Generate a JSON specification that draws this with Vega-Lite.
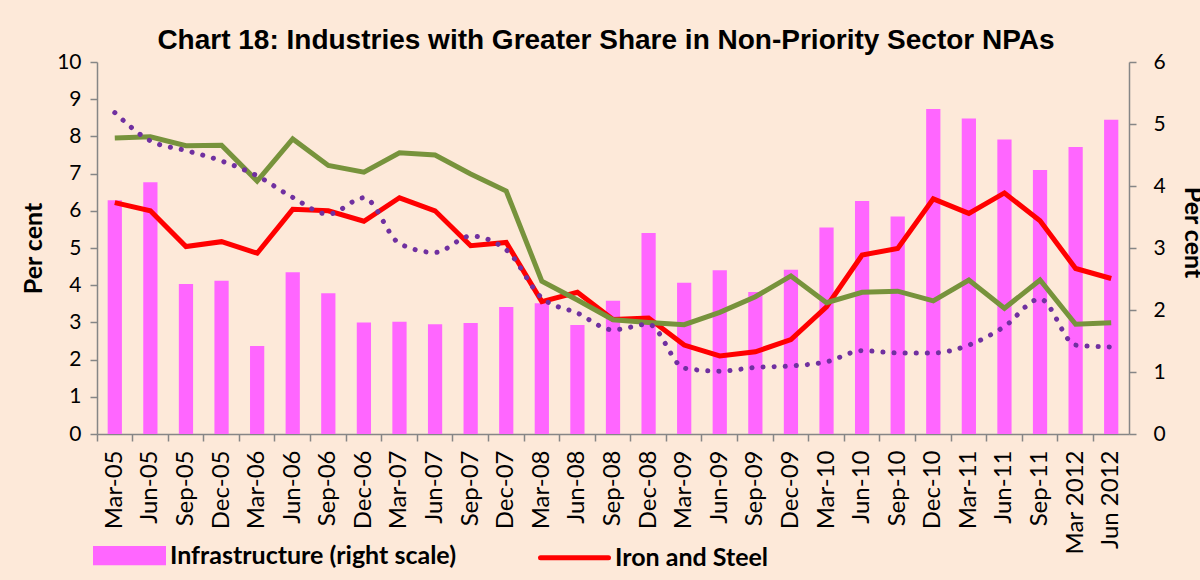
{
  "$schema": "https://vega.github.io/schema/vega-lite/v6.json",
  "width": 1032,
  "height": 372,
  "autosize": {"type": "none"},
  "padding": {"left": 97, "top": 62, "right": 71, "bottom": 146},
  "background": "#FDE9D9",
  "config": {"view": {"stroke": null}, "font": "Lato"},
  "title": {
    "text": "Chart 18: Industries with Greater Share in Non-Priority Sector NPAs",
    "font": "Liberation Sans",
    "fontSize": 28,
    "fontWeight": "bold",
    "color": "black",
    "anchor": "middle",
    "frame": "group",
    "baseline": "alphabetic",
    "offset": -26,
    "dx": -7
  },
  "data": {
    "values": [
      {"d": "Mar-05", "infra": 3.77, "iron": 6.22, "green": 7.96, "purple": 8.64},
      {"d": "Jun-05", "infra": 4.06, "iron": 6.00, "green": 7.99, "purple": 7.88},
      {"d": "Sep-05", "infra": 2.42, "iron": 5.04, "green": 7.75, "purple": 7.62},
      {"d": "Dec-05", "infra": 2.47, "iron": 5.17, "green": 7.76, "purple": 7.34},
      {"d": "Mar-06", "infra": 1.42, "iron": 4.86, "green": 6.80, "purple": 6.94},
      {"d": "Jun-06", "infra": 2.61, "iron": 6.04, "green": 7.93, "purple": 6.36},
      {"d": "Sep-06", "infra": 2.27, "iron": 6.00, "green": 7.22, "purple": 5.91},
      {"d": "Dec-06", "infra": 1.80, "iron": 5.72, "green": 7.04, "purple": 6.35},
      {"d": "Mar-07", "infra": 1.81, "iron": 6.35, "green": 7.56, "purple": 5.12},
      {"d": "Jun-07", "infra": 1.77, "iron": 6.00, "green": 7.50, "purple": 4.88},
      {"d": "Sep-07", "infra": 1.79, "iron": 5.06, "green": 6.99, "purple": 5.32},
      {"d": "Dec-07", "infra": 2.05, "iron": 5.15, "green": 6.53, "purple": 4.95},
      {"d": "Mar-08", "infra": 2.11, "iron": 3.56, "green": 4.11, "purple": 3.66},
      {"d": "Jun-08", "infra": 1.76, "iron": 3.81, "green": 3.60, "purple": 3.25},
      {"d": "Sep-08", "infra": 2.15, "iron": 3.08, "green": 3.07, "purple": 2.80},
      {"d": "Dec-08", "infra": 3.24, "iron": 3.12, "green": 3.00, "purple": 2.95},
      {"d": "Mar-09", "infra": 2.44, "iron": 2.39, "green": 2.94, "purple": 1.77},
      {"d": "Jun-09", "infra": 2.64, "iron": 2.10, "green": 3.27, "purple": 1.69},
      {"d": "Sep-09", "infra": 2.29, "iron": 2.21, "green": 3.69, "purple": 1.79},
      {"d": "Dec-09", "infra": 2.65, "iron": 2.54, "green": 4.25, "purple": 1.83},
      {"d": "Mar-10", "infra": 3.33, "iron": 3.42, "green": 3.53, "purple": 1.94},
      {"d": "Jun-10", "infra": 3.76, "iron": 4.81, "green": 3.81, "purple": 2.24},
      {"d": "Sep-10", "infra": 3.51, "iron": 4.99, "green": 3.84, "purple": 2.18},
      {"d": "Dec-10", "infra": 5.24, "iron": 6.32, "green": 3.58, "purple": 2.18},
      {"d": "Mar-11", "infra": 5.09, "iron": 5.93, "green": 4.14, "purple": 2.39},
      {"d": "Jun-11", "infra": 4.75, "iron": 6.48, "green": 3.38, "purple": 2.89},
      {"d": "Sep-11", "infra": 4.26, "iron": 5.73, "green": 4.14, "purple": 3.63},
      {"d": "Mar 2012", "infra": 4.63, "iron": 4.45, "green": 2.95, "purple": 2.39},
      {"d": "Jun 2012", "infra": 5.07, "iron": 4.18, "green": 2.99, "purple": 2.34}
    ]
  },
  "encoding": {
    "x": {
      "field": "d",
      "type": "ordinal",
      "sort": null,
      "scale": {"paddingInner": 0, "paddingOuter": 0},
      "axis": {
        "title": null,
        "labelAngle": -90,
        "labelFont": "Lato",
        "labelFontSize": 24,
        "labelColor": "black",
        "domainColor": "#868686",
        "domainWidth": 1.5,
        "tickColor": "#868686",
        "tickWidth": 1.5,
        "tickSize": 7,
        "bandPosition": 0,
        "labelOffset": 0,
        "labelPadding": 9
      }
    }
  },
  "layer": [
    {
      "mark": {"type": "bar", "width": {"band": 0.4}},
      "encoding": {
        "y": {
          "field": "infra",
          "type": "quantitative",
          "scale": {"domain": [0, 6], "nice": false},
          "axis": {
            "orient": "right",
            "title": "Per cent",
            "titleFont": "Lato",
            "titleFontSize": 25,
            "titleFontWeight": "bold",
            "titleColor": "black",
            "titlePadding": 14,
            "titleY": 170,
            "values": [0, 1, 2, 3, 4, 5, 6],
            "labelFont": "Lato",
            "labelFontSize": 21,
            "labelColor": "black",
            "labelPadding": 17,
            "domainColor": "#868686",
            "domainWidth": 1.5,
            "tickColor": "#868686",
            "tickWidth": 1.5,
            "tickSize": 7,
            "grid": false
          }
        },
        "color": {
          "datum": "Infrastructure (right scale)",
          "scale": {
            "domain": ["Infrastructure (right scale)", "Iron and Steel"],
            "range": ["#FF66FF", "#FF0000"]
          },
          "legend": {
            "orient": "none",
            "legendX": -4,
            "legendY": 457,
            "direction": "horizontal",
            "title": null,
            "symbolType": "stroke",
            "symbolSize": 4624,
            "symbolStrokeWidth": 5,
            "labelFont": "Lato",
            "labelFontSize": 25,
            "labelFontWeight": "bold",
            "labelColor": "black",
            "labelBaseline": "middle",
            "labelOffset": 4,
            "labelLimit": 500,
            "columnPadding": 74,
            "encode": {
              "symbols": {
                "update": {
                  "shape": {"signal": "datum.value === 'Iron and Steel' ? 'stroke' : 'M-1,-0.21H1V0.21H-1Z'"},
                  "stroke": {"signal": "datum.value === 'Iron and Steel' ? '#FF0000' : 'transparent'"},
                  "fill": {"signal": "datum.value === 'Iron and Steel' ? 'transparent' : '#FF66FF'"},
                  "fillOpacity": {"value": 1},
                  "strokeCap": {"value": "round"}
                }
              }
            }
          }
        }
      }
    },
    {
      "mark": {"type": "line", "strokeWidth": 5},
      "encoding": {
        "y": {
          "field": "iron",
          "type": "quantitative",
          "scale": {"domain": [0, 10], "nice": false},
          "axis": {
            "orient": "left",
            "title": "Per cent",
            "titleFont": "Lato",
            "titleFontSize": 25,
            "titleFontWeight": "bold",
            "titleColor": "black",
            "titlePadding": 10,
            "values": [0, 1, 2, 3, 4, 5, 6, 7, 8, 9, 10],
            "labelFont": "Lato",
            "labelFontSize": 21,
            "labelColor": "black",
            "labelPadding": 9,
            "domainColor": "#868686",
            "domainWidth": 1.5,
            "tickColor": "#868686",
            "tickWidth": 1.5,
            "tickSize": 7,
            "grid": false
          }
        },
        "color": {"datum": "Iron and Steel"}
      }
    },
    {
      "mark": {"type": "line", "strokeWidth": 5, "color": "#77933C"},
      "encoding": {
        "y": {"field": "green", "type": "quantitative", "scale": {"domain": [0, 10], "nice": false}, "axis": null}
      }
    },
    {
      "mark": {
        "type": "line",
        "strokeWidth": 5,
        "color": "#7030A0",
        "strokeDash": [0.1, 11],
        "strokeCap": "round",
        "interpolate": "monotone"
      },
      "encoding": {
        "y": {"field": "purple", "type": "quantitative", "scale": {"domain": [0, 10], "nice": false}, "axis": null}
      }
    }
  ],
  "resolve": {"scale": {"y": "independent"}}
}
